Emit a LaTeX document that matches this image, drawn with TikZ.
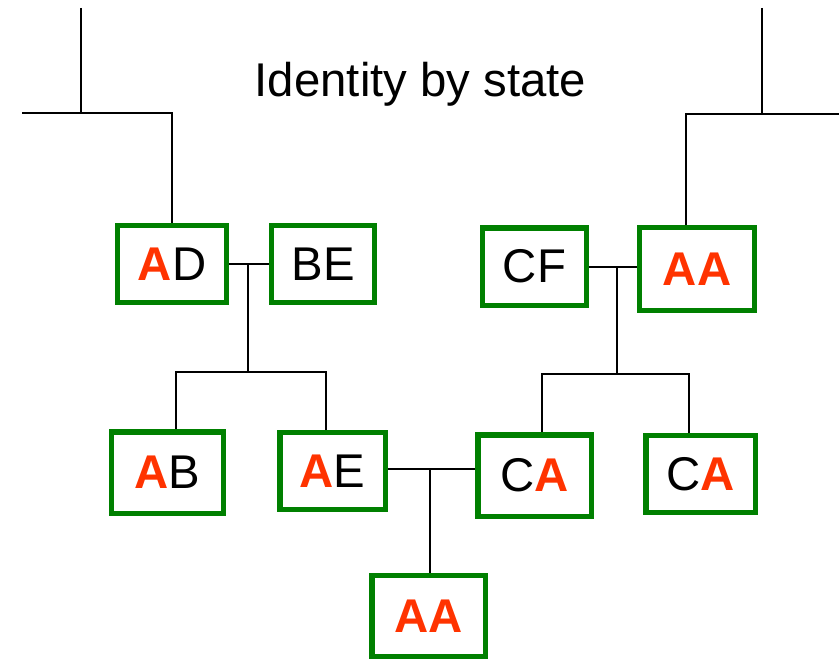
\documentclass[tikz,border=0pt]{standalone}
\usepackage{fontspec}
\setmainfont{Liberation Sans}
\usetikzlibrary{calc,backgrounds}
\definecolor{boxgreen}{RGB}{0,128,0}
\definecolor{allelered}{RGB}{255,51,0}
\newcommand{\idA}{\textcolor{allelered}{\bfseries A}}

\begin{document}
\begin{tikzpicture}[x=0.75pt, y=-0.75pt, every node/.style={font=\fontsize{35.5}{40}\selectfont}]
\tikzset{gbox/.style={draw=boxgreen, line width=4pt, fill=white, inner sep=0pt, minimum width=80pt, minimum height=58pt}}
\tikzset{line/.style={line width=1.5pt}}
\useasboundingbox (0,0) rectangle (839,660);
\node[anchor=base] (title) at (420.5,97) {Identity by state};
% top generation
\node[gbox, minimum width=81.5pt] (ad) at (172,264) {\idA D};
\node[gbox, minimum width=77pt] (be) at (323,264) {BE};
\node[gbox, minimum width=78pt] (cf) at (534.5,266.5) {CF};
\node[gbox, minimum width=86pt, minimum height=62pt] (aatop) at (697,269) {\idA\idA};
% children
\node[gbox, minimum width=84pt, minimum height=61pt] (ab) at (167.5,472.5) {\idA B};
\node[gbox, minimum width=79pt, minimum height=57.5pt] (ae) at (332.5,471) {\idA E};
\node[gbox, minimum width=85pt, minimum height=61pt] (ca1) at (534.5,475.5) {C\idA};
\node[gbox, minimum width=82pt, minimum height=57.5pt] (ca2) at (700.5,474) {C\idA};
% grandchild
\node[gbox, minimum width=85pt, minimum height=60.5pt] (aabot) at (428.5,616) {\idA\idA};
% junction points
\coordinate (lgp) at (81,8);
\coordinate (lgj) at (81,113);
\coordinate (lgl) at (22,113);
\coordinate (lgr) at (172,113);
\coordinate (rgp) at (762,8);
\coordinate (rgj) at (762,114);
\coordinate (rgr) at (839,114);
\coordinate (rgl) at (686,114);
\coordinate (m1) at (248,264);
\coordinate (s1) at (248,372);
\coordinate (s1l) at (176,372);
\coordinate (s1r) at (326,372);
\coordinate (m2) at (617,267);
\coordinate (s2) at (617,374);
\coordinate (s2l) at (542,374);
\coordinate (s2r) at (689,374);
\coordinate (m3) at (430,469);
\begin{scope}[on background layer]
\draw[line] (lgp) -- (lgj);
\draw[line] (lgl) -- (lgr) -- (ad);
\draw[line] (rgp) -- (rgj);
\draw[line] (rgr) -- (rgl) -- (rgl |- aatop.north);
\draw[line] (ad) -- (be);
\draw[line] (m1) -- (s1);
\draw[line] (s1l |- ab.north) -- (s1l) -- (s1r) -- (s1r |- ae.north);
\draw[line] (cf.east |- m2) -- (aatop.west |- m2);
\draw[line] (m2) -- (s2);
\draw[line] (s2l |- ca1.north) -- (s2l) -- (s2r) -- (s2r |- ca2.north);
\draw[line] (ae.east |- m3) -- (ca1.west |- m3);
\draw[line] (m3) -- (m3 |- aabot.north);
\end{scope}
\end{tikzpicture}
\end{document}
